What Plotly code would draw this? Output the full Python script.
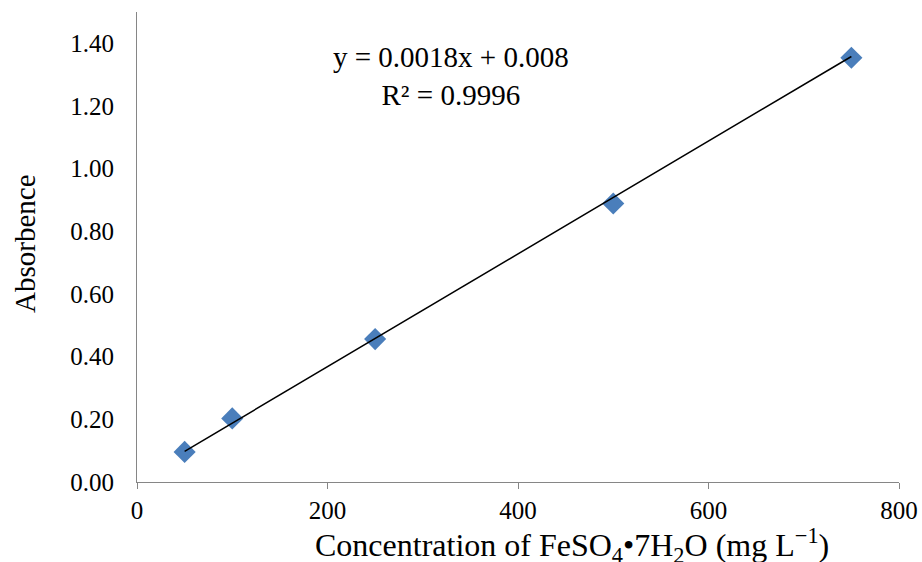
import plotly.graph_objects as go

# Data
concentration = [50, 100, 250, 500, 750]
absorbance = [0.096, 0.203, 0.456, 0.889, 1.354]
slope = 0.0018
intercept = 0.008
r_squared = 0.9996
x_ticks = [0, 200, 400, 600, 800]
y_ticks = [0.0, 0.2, 0.4, 0.6, 0.8, 1.0, 1.2, 1.4]
y_tick_labels = ["0.00", "0.20", "0.40", "0.60", "0.80", "1.00", "1.20", "1.40"]

trend_x = [min(concentration), max(concentration)]
trend_y = [slope * v + intercept for v in trend_x]

FONT = "Liberation Serif, Times New Roman, serif"
AXIS_COLOR = "#868686"

W, H = 922, 562
L, R, T, B = 137, 23, 12, 80
pw, ph = W - L - R, H - T - B


def px_to_paper(vx, vy):
    return (vx - L) / pw, (H - B - vy) / ph


fig = go.Figure()
fig.add_trace(go.Scatter(
    x=concentration, y=absorbance, mode="markers",
    marker=dict(symbol="diamond", size=17, color="#4A7EBB"),
    showlegend=False, hoverinfo="x+y"))
fig.add_trace(go.Scatter(
    x=trend_x, y=trend_y, mode="lines",
    line=dict(color="black", width=1.5),
    showlegend=False, hoverinfo="skip"))

eq_x, eq_y = px_to_paper(451, 76)
xt_x, xt_y = px_to_paper(572, 545)
yt_x, yt_y = px_to_paper(25, 244)

fig.update_layout(
    width=W, height=H,
    margin=dict(l=L, r=R, t=T, b=B, autoexpand=False),
    paper_bgcolor="white", plot_bgcolor="white",
    font=dict(family=FONT, size=25, color="black"),
    xaxis=dict(range=[0, 800], tickvals=x_ticks, showgrid=False, zeroline=False,
               showline=True, linecolor=AXIS_COLOR, linewidth=1,
               ticks="outside", ticklen=6, tickcolor=AXIS_COLOR,
               tickfont=dict(family=FONT, size=25, color="black"),
               ticklabelstandoff=0, automargin=False),
    yaxis=dict(range=[0, 1.5], tickvals=y_ticks, ticktext=y_tick_labels,
               showgrid=False, zeroline=False,
               showline=True, linecolor=AXIS_COLOR, linewidth=1,
               ticks="", tickfont=dict(family=FONT, size=25, color="black"),
               ticklabelstandoff=17, automargin=False),
    annotations=[
        dict(text=f"y = {slope}x + {intercept}<br>R² = {r_squared}",
             x=eq_x, y=eq_y, xref="paper", yref="paper", showarrow=False,
             xanchor="center", yanchor="middle",
             font=dict(family=FONT, size=29), align="center"),
        dict(text="Concentration of FeSO<sub>4</sub>•7H<sub>2</sub>O (mg L<sup>−1</sup>)",
             x=xt_x, y=xt_y, xref="paper", yref="paper", showarrow=False,
             xanchor="center", yanchor="middle",
             font=dict(family=FONT, size=32)),
        dict(text="Absorbence", x=yt_x, y=yt_y, xref="paper", yref="paper",
             textangle=-90, showarrow=False, xanchor="center", yanchor="middle",
             font=dict(family=FONT, size=29)),
    ],
)

# remove the default page margin so the 922x562 figure fills the window exactly
fig.write_html(
    "out.html",
    config={"displayModeBar": False},
    post_script="document.body.style.margin='0';document.body.style.overflow='hidden';",
)
